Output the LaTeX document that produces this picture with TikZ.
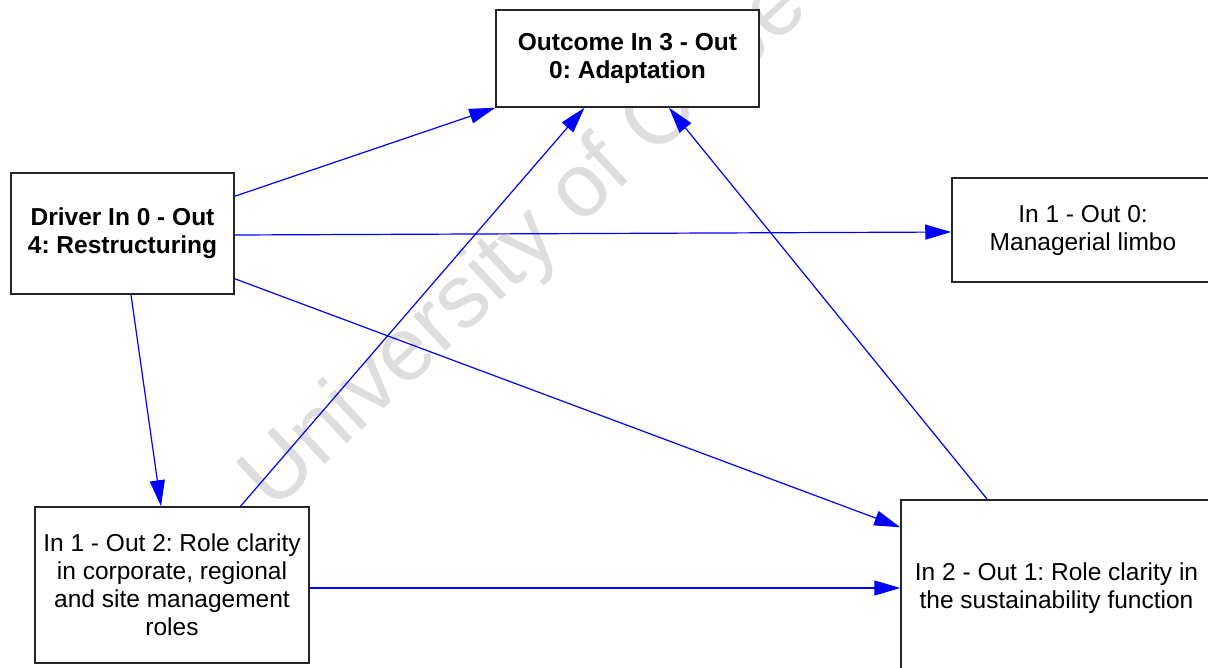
\documentclass[tikz,border=0pt]{standalone}
\usepackage{fontspec}
\setmainfont{Liberation Sans}
\usetikzlibrary{arrows.meta}
\frenchspacing
\begin{document}
\begin{tikzpicture}[x=1pt,y=-1pt,
  box/.style={draw=black!85, line width=1.5pt, fill=white, inner sep=0pt,
    align=center, font=\fontsize{24.5}{28}\selectfont},
  boldbox/.style={box, font=\fontsize{24.5}{28}\selectfont\bfseries},
  link/.style={draw=blue, line width=1.2pt, -{Triangle[length=26pt,width=15pt]}},
  stamp/.style={text=black!13, font=\fontsize{90}{90}\selectfont, inner sep=0pt}]
\clip (0,0) rectangle (1208,667);
\fill[white] (0,0) rectangle (1208,667);

% faint background stamp
\node[stamp, rotate=43, anchor=base west] (wm) at (273,513) {University of Cape Town};

% boxes
\node[boldbox, minimum width=263pt, minimum height=97pt] (out) at (627.5,58.5)
  {Outcome In 3 - Out\\0: Adaptation};
\node[boldbox, minimum width=223pt, minimum height=121pt] (drv) at (122.5,233.5)
  {Driver In 0 - Out\\4: Restructuring};
\node[box, minimum width=262pt, minimum height=104pt] (lim) at (1083,230)
  {In 1 - Out 0:\\Managerial limbo};
\node[box, minimum width=274pt, minimum height=156pt] (corp) at (172,585)
  {In 1 - Out 2: Role clarity\\in corporate, regional\\and site management\\roles};
\node[box, minimum width=311pt, minimum height=176pt] (sus) at (1056.5,588)
  {In 2 - Out 1: Role clarity in\\the sustainability function};

% connectors
\draw[link] ([yshift=-24pt]drv.north east) -- (out.south west);
\draw[link] ([yshift=-1.5pt]drv.east) -- ([yshift=-2pt]lim.west);
\draw[link] ([yshift=16pt]drv.south east) -- ([yshift=-28pt]sus.north west);
\draw[link] ([xshift=8.5pt]drv.south) -- ([xshift=-11pt]corp.north);
\draw[link] ([xshift=68.5pt]corp.north) -- ([xshift=-43pt]out.south);
\draw[link] ([xshift=87pt]sus.north west) -- ([xshift=41.5pt]out.south);
\draw[link] ([yshift=-3pt]corp.east) -- ([yshift=-3pt]corp.east -| sus.west);
\end{tikzpicture}
\end{document}
